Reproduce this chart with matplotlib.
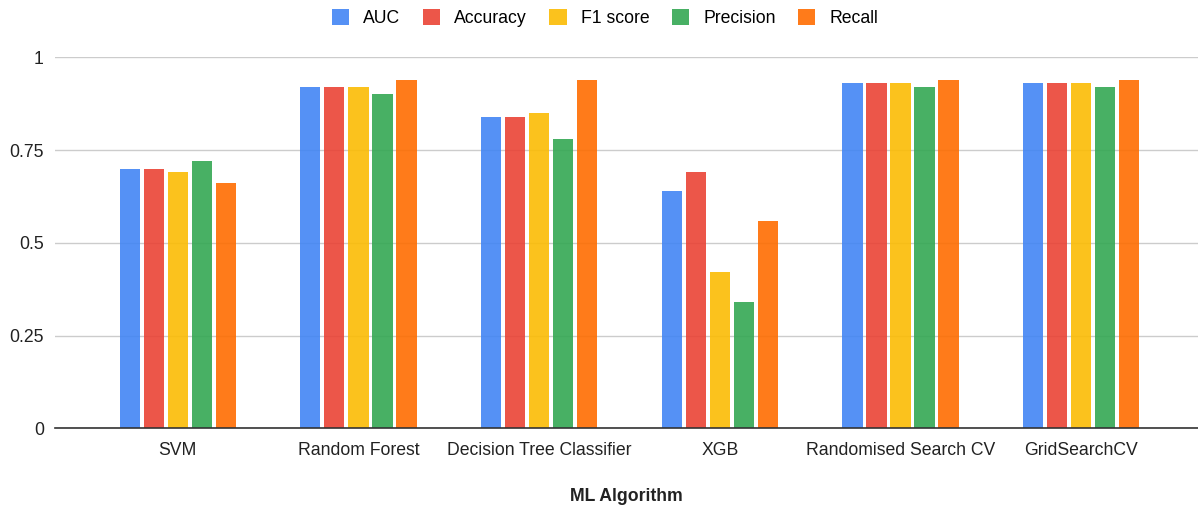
import matplotlib

matplotlib.use("Agg")

import matplotlib.pyplot as plt
import numpy as np

algorithms = ["SVM", "Random Forest", "Decision Tree Classifier", "XGB",
              "Randomised Search CV", "GridSearchCV"]
metrics = ["AUC", "Accuracy", "F1 score", "Precision", "Recall"]
auc = [0.70, 0.92, 0.84, 0.64, 0.93, 0.93]
accuracy = [0.70, 0.92, 0.84, 0.69, 0.93, 0.93]
f1_score = [0.69, 0.92, 0.85, 0.42, 0.93, 0.93]
precision = [0.72, 0.90, 0.78, 0.34, 0.92, 0.92]
recall = [0.66, 0.94, 0.94, 0.56, 0.94, 0.94]
yticks = [0, 0.25, 0.5, 0.75, 1]
ytick_labels = ["0", "0.25", "0.5", "0.75", "1"]

series = [auc, accuracy, f1_score, precision, recall]
colors = ["#4285f4", "#ea4335", "#fbbc04", "#34a853", "#ff6d01"]

plt.rcParams["font.family"] = ["Liberation Sans", "DejaVu Sans"]
fs = 12.7

fig = plt.figure(figsize=(11.98, 5.08), dpi=100)
W, H = 1198, 508
left, right, top, bottom = 55, 1198, 57.3, 428.3
ax = fig.add_axes([left / W, 1 - bottom / H, (right - left) / W, (bottom - top) / H])

x = np.arange(len(algorithms))
step = 0.133
width = 0.112
for i, (name, vals) in enumerate(zip(metrics, series)):
    ax.bar(x + (i - 2) * step, vals, width, color=colors[i], alpha=0.9,
           label=name, zorder=3)

ax.set_xlim(-0.679, 5.646)
ax.set_ylim(0, 1)
ax.set_yticks(yticks)
ax.set_yticklabels(ytick_labels)
ax.set_xticks(x)
ax.set_xticklabels(algorithms)
ax.tick_params(axis="both", length=0, labelsize=fs, colors="#222222")
ax.tick_params(axis="x", pad=10)
ax.tick_params(axis="y", pad=8)
ax.grid(axis="y", color="#cccccc", linewidth=1, zorder=0)
for side in ["top", "right", "left"]:
    ax.spines[side].set_visible(False)
ax.spines["bottom"].set_color("#333333")
ax.spines["bottom"].set_linewidth(1.2)
ax.spines["bottom"].set_zorder(4)

ax.set_xlabel("ML Algorithm", fontsize=fs, fontweight="bold", color="#222222",
              labelpad=21)

fig.legend(loc="center", bbox_to_anchor=(605 / W, 1 - 18 / H), ncol=5,
           frameon=False, fontsize=fs, handlelength=1.0, handleheight=1.0,
           handletextpad=0.8, columnspacing=1.25)

fig.savefig("out.png", dpi=100)
